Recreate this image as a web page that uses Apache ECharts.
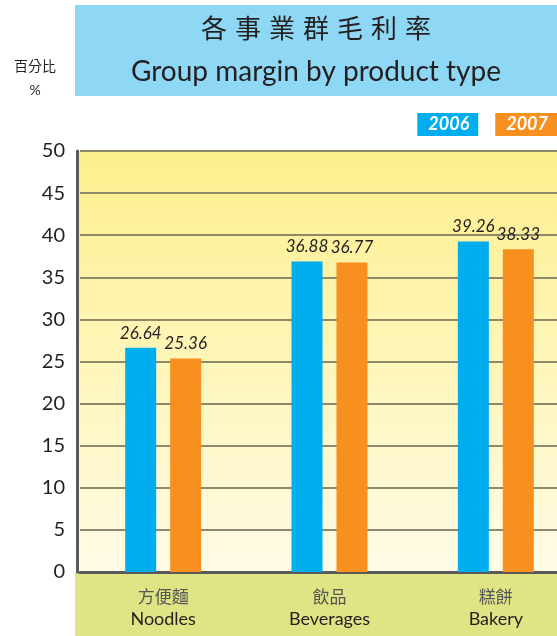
<!DOCTYPE html>
<html>
<head>
    <meta charset="UTF-8">
    <title>各事業群毛利率</title>
    <script src="https://cdn.jsdelivr.net/npm/echarts@6/dist/echarts.min.js"></script>
    <style>
        body { margin:0; background:#ffffff; }
        #chart { width:557px; height:636px; }
    </style>
</head>
<body>
    <div id="chart"></div>
    <script>
        // data
        var catCn = ['方便麵', '飲品', '糕餅'];
        var catEn = ['Noodles', 'Beverages', 'Bakery'];
        var years = ['2006', '2007'];
        var margin2006 = [26.64, 36.88, 39.26];
        var margin2007 = [25.36, 36.77, 38.33];
        var colors = ['#00aeef', '#f7901e'];
        var titleCn = '各事業群毛利率';

        var font = 'Lato, "Noto Sans CJK TC", sans-serif';
        var chart = echarts.init(document.getElementById('chart'), null, {renderer: 'canvas'});

        var labelStyle = {
            show: true,
            position: 'top',
            distance: 6,
            fontFamily: font,
            fontStyle: 'italic',
            fontSize: 17,
            color: '#231f20',
            formatter: function (p) { return p.value.toFixed(2); }
        };

        var option = {
            animation: false,
            textStyle: { fontFamily: font },
            title: [
                {
                    // spaced out characters
                    text: titleCn.split('').map(function (c) { return '{c|' + c + '}'; }).join(''),
                    left: 316, top: 15, textAlign: 'center', padding: 0,
                    textStyle: {
                        fontWeight: 'normal',
                        rich: { c: { fontFamily: '"Noto Sans CJK TC"', fontSize: 26, fontWeight: 'normal', color: '#231f20', padding: [0, 4, 0, 4] } }
                    }
                },
                {
                    text: 'Group margin by product type',
                    left: 316, top: 58, textAlign: 'center', padding: 0,
                    textStyle: { fontFamily: font, fontSize: 28, fontWeight: 'normal', color: '#231f20' }
                },
                {
                    text: '百分比\n%',
                    left: 35, top: 54, textAlign: 'center', padding: 0,
                    textStyle: { fontFamily: font, fontSize: 14, fontWeight: 'normal', color: '#231f20', lineHeight: 24 }
                }
            ],
            legend: {
                data: years.map(function (y, i) {
                    return { name: y, textStyle: { backgroundColor: colors[i] } };
                }),
                right: 0, top: 113, padding: 0,
                itemWidth: 0, itemHeight: 0, itemGap: 12,
                selectedMode: false,
                textStyle: {
                    color: '#ffffff', fontFamily: font, fontSize: 18,
                    fontWeight: 'bold', fontStyle: 'italic',
                    lineHeight: 19, padding: [2, 9, 2, 11]
                }
            },
            graphic: [
                { type: 'rect', z: -10, shape: { x: 75, y: 5, width: 482, height: 91 }, style: { fill: '#8fd8f5' } },
                { type: 'rect', z: -10, shape: { x: 77, y: 151, width: 480, height: 421 },
                  style: { fill: new echarts.graphic.LinearGradient(0, 0, 0, 1, [
                      { offset: 0, color: '#fdef8c' }, { offset: 1, color: '#fffbe6' }]) } },
                { type: 'rect', z: -10, shape: { x: 75, y: 572, width: 482, height: 64 }, style: { fill: '#dfe584' } }
            ],
            grid: { left: 80, top: 151, width: 499, height: 421, outerBoundsMode: 'none' },
            xAxis: {
                type: 'category',
                data: catCn.map(function (c, i) { return c + '\n' + catEn[i]; }),
                axisLine: { lineStyle: { color: '#5a5a5a', width: 3 } },
                axisTick: { show: false },
                axisLabel: {
                    margin: 14,
                    formatter: function (v) {
                        var s = v.split('\n');
                        return '{cn|' + s[0] + '}\n{en|' + s[1] + '}';
                    },
                    rich: {
                        cn: { fontFamily: '"Noto Sans CJK TC"', fontSize: 17, color: '#555555', lineHeight: 22 },
                        en: { fontFamily: font, fontSize: 18, color: '#231f20', lineHeight: 22 }
                    }
                }
            },
            yAxis: {
                type: 'value',
                min: 0, max: 50, interval: 5,
                offset: 3,
                axisLine: { show: true, lineStyle: { color: '#5a5a5a', width: 3 } },
                axisTick: { show: false },
                axisLabel: { margin: 12, fontFamily: font, fontSize: 20, color: '#231f20' },
                splitLine: { lineStyle: { color: '#8c8a6a', width: 2 } }
            },
            series: [
                { name: years[0], type: 'bar', data: margin2006, barWidth: 31, barGap: '45%',
                  itemStyle: { color: colors[0] }, label: labelStyle },
                { name: years[1], type: 'bar', data: margin2007, barWidth: 31, barGap: '45%',
                  itemStyle: { color: colors[1] }, label: labelStyle }
            ]
        };

        chart.setOption(option);
    </script>
</body>
</html>
